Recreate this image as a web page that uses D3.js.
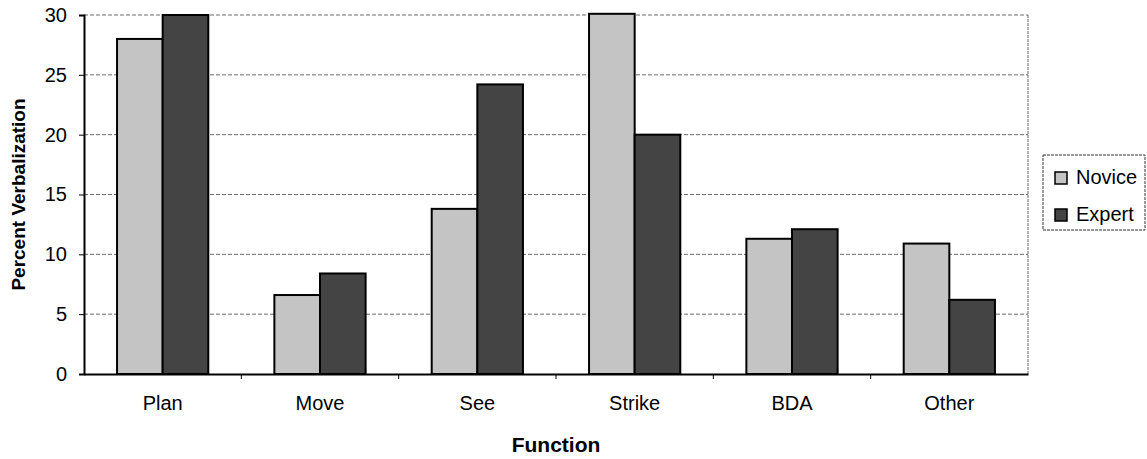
<!DOCTYPE html>
<html>
<head>
<meta charset="utf-8">
<script src="https://cdn.jsdelivr.net/npm/d3@7"></script>
<style>
  body { margin: 0; background: #fff; }
  text { font-family: "Liberation Sans", Arial, sans-serif; fill: #000; }
</style>
</head>
<body>
<div id="wrapper"></div>
<script>
// 1. Data
const categories = ["Plan", "Move", "See", "Strike", "BDA", "Other"]
const seriesNames = ["Novice", "Expert"]
const noviceValues = [28.0, 6.6, 13.8, 30.1, 11.3, 10.9]
const expertValues = [30.0, 8.4, 24.2, 20.0, 12.1, 6.2]
const yTicks = [0, 5, 10, 15, 20, 25, 30]

const seriesColors = { Novice: "#c4c4c4", Expert: "#444444" }

const rows = categories.map((c, i) => ({
  category: c,
  values: [
    { series: "Novice", value: noviceValues[i] },
    { series: "Expert", value: expertValues[i] },
  ],
}))

// 2. Dimensions
const dimensions = {
  width: 1147,
  height: 459,
  margin: { top: 15, right: 119, bottom: 85, left: 84 },
}
dimensions.boundedWidth = dimensions.width - dimensions.margin.left - dimensions.margin.right
dimensions.boundedHeight = dimensions.height - dimensions.margin.top - dimensions.margin.bottom

// 3. Canvas
const wrapper = d3.select("#wrapper")
  .append("svg")
  .attr("width", dimensions.width)
  .attr("height", dimensions.height)

const bounds = wrapper.append("g")
  .attr("transform", `translate(${dimensions.margin.left},${dimensions.margin.top})`)

// 4. Scales
const xScale = d3.scaleBand()
  .domain(categories)
  .range([0, dimensions.boundedWidth])
  .padding(0)

const gap = xScale.bandwidth() * 0.21
const x1Scale = d3.scaleBand()
  .domain(seriesNames)
  .range([gap, xScale.bandwidth() - gap])
  .padding(0)

const yScale = d3.scaleLinear()
  .domain([0, 30])
  .range([dimensions.boundedHeight, 0])

// 5. Gridlines + frame
bounds.append("g")
  .selectAll("line")
  .data(yTicks.filter(d => d > 0))
  .join("line")
  .attr("x1", 0)
  .attr("x2", dimensions.boundedWidth)
  .attr("y1", d => yScale(d))
  .attr("y2", d => yScale(d))
  .attr("stroke", "#6a6a6a")
  .attr("stroke-width", 1)
  .attr("stroke-dasharray", "4,2")

bounds.append("line")
  .attr("x1", dimensions.boundedWidth)
  .attr("x2", dimensions.boundedWidth)
  .attr("y1", 0)
  .attr("y2", dimensions.boundedHeight)
  .attr("stroke", "#6a6a6a")
  .attr("stroke-dasharray", "3,1")

// 6. Bars
const groups = bounds.append("g")
  .selectAll("g")
  .data(rows)
  .join("g")
  .attr("transform", d => `translate(${xScale(d.category)},0)`)

groups.selectAll("rect")
  .data(d => d.values)
  .join("rect")
  .attr("x", d => x1Scale(d.series))
  .attr("y", d => yScale(d.value))
  .attr("width", x1Scale.bandwidth())
  .attr("height", d => dimensions.boundedHeight - yScale(d.value))
  .attr("fill", d => seriesColors[d.series])
  .attr("stroke", "#000")
  .attr("stroke-width", 2)

// 7. Axes
const yAxis = d3.axisLeft(yScale)
  .tickValues(yTicks)
  .tickSize(5)
  .tickPadding(12)

const yAxisGroup = bounds.append("g").call(yAxis)
yAxisGroup.select(".domain").attr("stroke", "#000").attr("stroke-width", 2)
yAxisGroup.selectAll("text")
  .attr("font-size", 20)
  .attr("font-family", "Liberation Sans, Arial, sans-serif")

const xAxis = d3.axisBottom(xScale)
  .tickSize(0)
  .tickPadding(22)

const xAxisGroup = bounds.append("g")
  .attr("transform", `translate(0,${dimensions.boundedHeight})`)
  .call(xAxis)
xAxisGroup.select(".domain").attr("stroke", "#000").attr("stroke-width", 2)
xAxisGroup.selectAll("text")
  .attr("font-size", 20)
  .attr("font-family", "Liberation Sans, Arial, sans-serif")

// category boundary ticks
xAxisGroup.append("g")
  .selectAll("line")
  .data(categories.slice(1))
  .join("line")
  .attr("x1", d => xScale(d))
  .attr("x2", d => xScale(d))
  .attr("y1", 0)
  .attr("y2", 5)
  .attr("stroke", "#000")

// axis titles
wrapper.append("text")
  .attr("transform", `translate(25,${dimensions.margin.top + dimensions.boundedHeight / 2}) rotate(-90)`)
  .attr("text-anchor", "middle")
  .attr("font-size", 19)
  .attr("font-weight", "bold")
  .text("Percent Verbalization")

wrapper.append("text")
  .attr("x", dimensions.margin.left + dimensions.boundedWidth / 2)
  .attr("y", 452)
  .attr("text-anchor", "middle")
  .attr("font-size", 21)
  .attr("font-weight", "bold")
  .text("Function")

// 8. Legend
const legend = wrapper.append("g")
  .attr("transform", "translate(1043,155)")

legend.append("rect")
  .attr("width", 102)
  .attr("height", 75)
  .attr("fill", "#fff")
  .attr("stroke", "#333")
  .attr("stroke-dasharray", "3,1")

const legendItems = legend.selectAll("g")
  .data(seriesNames)
  .join("g")
  .attr("transform", (d, i) => `translate(12,${17 + i * 37})`)

legendItems.append("rect")
  .attr("width", 12)
  .attr("height", 12)
  .attr("fill", d => seriesColors[d])
  .attr("stroke", "#000")
  .attr("stroke-width", 1.5)

legendItems.append("text")
  .attr("x", 21)
  .attr("y", 12)
  .attr("font-size", 20)
  .text(d => d)
</script>
</body>
</html>
